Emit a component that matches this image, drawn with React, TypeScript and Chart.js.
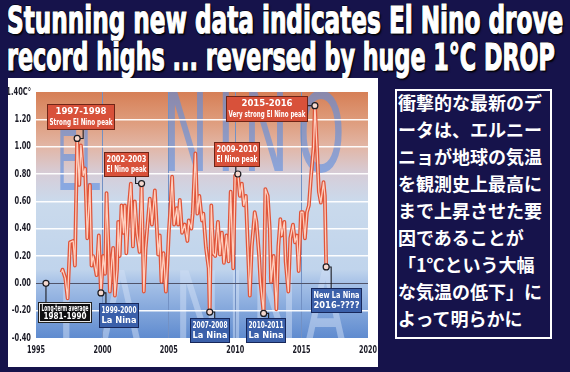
import React, { useEffect, useLayoutEffect, useRef } from "react";
import { Chart, registerables } from "chart.js";

Chart.register(...registerables);

// ---------- data ----------
const years = [
  1996.93, 1997.0, 1997.2, 1997.38, 1997.56, 1997.8, 1997.93, 1998.1, 1998.26, 1998.38,
  1998.56, 1998.7, 1998.86, 1999.06, 1999.18, 1999.3, 1999.45, 1999.56, 1999.73, 1999.89,
  2000.06, 2000.2, 2000.31, 2000.45, 2000.56, 2000.7, 2000.81, 2000.94, 2001.1, 2001.19,
  2001.3, 2001.44, 2001.6, 2001.69, 2001.8, 2001.98, 2002.14, 2002.3, 2002.44, 2002.6,
  2002.8, 2002.95, 2003.12, 2003.25, 2003.4, 2003.57, 2003.73, 2003.95, 2004.1, 2004.2,
  2004.32, 2004.45, 2004.6, 2004.78, 2004.9, 2005.0, 2005.1, 2005.25, 2005.4, 2005.6,
  2005.7, 2005.83, 2006.0, 2006.2, 2006.4, 2006.5, 2006.7, 2006.8, 2007.0, 2007.15,
  2007.3, 2007.5, 2007.6, 2007.8, 2008.0, 2008.08, 2008.2, 2008.35, 2008.5, 2008.7,
  2008.85, 2009.0, 2009.15, 2009.34, 2009.5, 2009.66, 2009.85, 2010.0, 2010.2, 2010.35,
  2010.5, 2010.65, 2010.8, 2010.95, 2011.1, 2011.25, 2011.47, 2011.6, 2011.8, 2011.9,
  2012.14, 2012.27, 2012.45, 2012.6, 2012.7, 2012.9, 2013.1, 2013.25, 2013.4, 2013.5,
  2013.7, 2013.8, 2014.0, 2014.15, 2014.35, 2014.5, 2014.65, 2014.78, 2014.95, 2015.1,
  2015.25, 2015.4, 2015.55, 2015.7, 2015.9, 2016.0, 2016.15, 2016.3, 2016.45, 2016.65,
  2016.75, 2016.85,
];
const anomalies = [
  0.08, 0.1, 0.04, -0.11, 0.3, 0.31, 0.13, 1.06, 0.72, 1.01,
  0.79, 0.84, 0.33, 0.72, 0.13, 0.2, 0.12, 0.06, 0.35, -0.07,
  0.2, 0.07, 0.66, 0.29, -0.06, 0.15, 0.26, -0.09, 0.1, 0.45,
  0.2, 0.57, 0.37, 0.57, 0.22, 0.55, 0.73, 0.27, 0.6, 0.37,
  0.23, 0.73, -0.06, 0.25, 0.43, 0.62, 0.43, 0.68, 0.4, 0.21,
  0.35, 0.01, 0.22, -0.06, 0.15, 0.37, 0.52, 0.78, 0.43, 0.55,
  0.43, 0.61, 0.37, 0.43, 0.31, 0.46, 0.4, 0.51, 0.95, 0.51,
  0.64, 0.46, 0.51, 0.26, 0.11, -0.21, 0.57, 0.22, 0.2, 0.45,
  0.21, 0.37, 0.15, 0.35, 0.16, 0.67, 0.11, 0.79, 0.8, 0.64,
  0.73, 0.57, 0.64, 0.27, -0.09, 0.27, 0.52, 0.45, 0.2, 0.01,
  -0.22, 0.69, 0.64, 0.4, 0.01, 0.2, -0.19, 0.27, 0.47, 0.35,
  0.45, 0.16, -0.06, 0.33, 0.43, 0.3, 0.35, 0.09, 0.52, 0.52,
  0.33, 0.52, 0.57, 0.77, 0.99, 1.3, 1.01, 0.67, 0.59, 0.74,
  0.64, 0.12,
];

const xMin = 1995;
const xMax = 2020;
const xStep = 5;
const yMin = -0.4;
const yMax = 1.4;
const yStep = 0.2;
const topTickUnit = "C°";

const noteYears = [1998.1, 2002.95, 2010.2, 2016.0, 2016.85, 2008.08, 2012.14, 1999.89, 1995.75];
const noteValues = [1.06, 0.73, 0.8, 1.3, 0.12, -0.21, -0.22, -0.07, 0.0];
const noteTitles = [
  "1997-1998", "2002-2003", "2009-2010", "2015-2016", "New La Nina",
  "2007-2008", "2010-2011", "1999-2000", "Long-term average",
];
const noteSubtitles = [
  "Strong El Nino peak", "El Nino peak", "El Nino peak", "Very strong El Nino peak", "2016-????",
  "La Nina", "La Nina", "La Nina", "1981-1990",
];
const noteKinds = ["nino", "nino", "nino", "nino", "nina", "nina", "nina", "nina", "avg"];

const titleLines = [
  "Stunning new data indicates El Nino drove",
  "record highs ... reversed by huge 1°C DROP",
];

const sideLines = [
  "衝撃的な最新のデ",
  "ータは、エルニー",
  "ニョが地球の気温",
  "を観測史上最高に",
  "まで上昇させた要",
  "因であることが",
  "「1℃という大幅",
  "な気温の低下」に",
  "よって明らかに",
];

// ---------- layout / style (not data) ----------
const noteLayout = [
  { dx: -30, dy: -34, w: 67, h: 25, ex: 6 },
  { dx: -38, dy: -32, w: 44, h: 24, ex: -6 },
  { dx: -24, dy: -32, w: 45, h: 24, ex: -2 },
  { dx: -89, dy: -10, w: 81, h: 25, ex: 0 },
  { dx: -15, dy: 21, w: 50, h: 24, ex: 5 },
  { dx: -20, dy: 6, w: 39, h: 24, ex: 5 },
  { dx: -18, dy: 5, w: 39, h: 24, ex: 5 },
  { dx: -2, dy: 10, w: 39, h: 24, ex: 5 },
  { dx: -7, dy: 20, w: 51, h: 18, ex: 0 },
];
const noteStyles: Record<string, { fill: string; stroke: string }> = {
  nino: { fill: "#d8513a", stroke: "#6e2517" },
  nina: { fill: "#3b60aa", stroke: "#17275a" },
  avg: { fill: "#0e0e10", stroke: "#e8e8e8" },
};

const NARROW = "'Liberation Sans Narrow', 'DejaVu Sans Condensed', sans-serif";
const NAVY = "#16134b";
const near = (a: number, b: number) => Math.abs(a - b) < 1e-6;

function yLabel(v: number) {
  const s = (Math.abs(v) < 1e-9 ? 0 : v).toFixed(2);
  return near(v, yMax) ? s + topTickUnit : s;
}

function drawWord(
  ctx: CanvasRenderingContext2D,
  text: string,
  left: number,
  baseline: number,
  size: number,
  targetWidth: number,
  color: string,
  spacing: number
) {
  ctx.save();
  ctx.font = `normal ${size}px 'DejaVu Sans', sans-serif`;
  (ctx as any).letterSpacing = `${spacing}px`;
  const w = ctx.measureText(text).width - spacing;
  ctx.translate(left, baseline);
  ctx.scale(targetWidth / w, 1);
  ctx.fillStyle = color;
  ctx.textAlign = "left";
  ctx.textBaseline = "alphabetic";
  ctx.fillText(text, 0, 0);
  ctx.restore();
}

const backdropPlugin = {
  id: "backdrop",
  beforeDraw(chart: any) {
    const { ctx, chartArea } = chart;
    const { left, top, right, bottom } = chartArea;
    const f = (v: number) => (yMax - v) / (yMax - yMin);
    ctx.save();
    const g = ctx.createLinearGradient(0, top, 0, bottom);
    g.addColorStop(f(1.4), "#d67f56");
    g.addColorStop(f(1.2), "#de9a79");
    g.addColorStop(f(1.0), "#e2b6a6");
    g.addColorStop(f(0.8), "#d6cdd8");
    g.addColorStop(f(0.6), "#cadaec");
    g.addColorStop(f(0.1), "#c0d4ec");
    g.addColorStop(f(0.0), "#a6c1e7");
    g.addColorStop(f(-0.4), "#5f8bcf");
    ctx.fillStyle = g;
    ctx.fillRect(left, top, right - left, bottom - top);
    ctx.beginPath();
    ctx.rect(left, top, right - left, bottom - top);
    ctx.clip();
    drawWord(ctx, "EL", left + 21, top + 98, 84, 43, "rgba(92,142,224,0.62)", 6);
    drawWord(ctx, "NINO", left + 127, top + 79, 108, 182, "rgba(92,142,224,0.62)", 14);
    drawWord(ctx, "LA NINA", left + 21, top + 255, 106, 290, "rgba(210,224,246,0.5)", 10);
    ctx.restore();
  },
};

const labelsPlugin = {
  id: "axisLabels",
  afterDraw(chart: any) {
    const { ctx, chartArea } = chart;
    const xs = chart.scales.x;
    const ys = chart.scales.y;
    ctx.save();
    ctx.fillStyle = "#1b1b26";
    ctx.font = `bold 10px ${NARROW}`;
    ctx.textBaseline = "middle";
    ys.ticks.forEach((t: any) => {
      const py = ys.getPixelForValue(t.value);
      ctx.save();
      ctx.translate(chartArea.left - 5, py);
      ctx.scale(0.74, 1);
      ctx.textAlign = "right";
      ctx.fillText(yLabel(t.value), 0, 0);
      ctx.restore();
    });
    xs.ticks.forEach((t: any) => {
      const px = xs.getPixelForValue(t.value);
      ctx.save();
      ctx.translate(px, chartArea.bottom + 12);
      ctx.scale(0.72, 1);
      ctx.textAlign = "center";
      ctx.fillText(String(t.value), 0, 0);
      ctx.restore();
    });
    ctx.restore();
  },
};

const notesPlugin = {
  id: "notes",
  afterDatasetsDraw(chart: any) {
    const { ctx } = chart;
    const xs = chart.scales.x;
    const ys = chart.scales.y;
    ctx.save();
    noteYears.forEach((yr, i) => {
      const ax = xs.getPixelForValue(yr);
      const ay = ys.getPixelForValue(noteValues[i]);
      const L = noteLayout[i];
      const st = noteStyles[noteKinds[i]];
      const bx = Math.round(ax + L.dx) + 0.5;
      const by = Math.round(ay + L.dy) + 0.5;
      // connector
      ctx.strokeStyle = "#1c1c22";
      ctx.lineWidth = 1.1;
      ctx.beginPath();
      ctx.moveTo(ax, ay);
      if (ay >= by && ay <= by + L.h) {
        const edge = ax > bx + L.w ? bx + L.w : bx;
        ctx.lineTo(edge, ay);
      } else {
        const edgeY = by > ay ? by : by + L.h;
        ctx.lineTo(ax + L.ex, ay);
        ctx.lineTo(ax + L.ex, edgeY);
      }
      ctx.stroke();
      // box
      ctx.fillStyle = st.fill;
      ctx.fillRect(bx, by, L.w, L.h);
      ctx.strokeStyle = st.stroke;
      ctx.lineWidth = 1;
      ctx.strokeRect(bx, by, L.w, L.h);
      if (noteKinds[i] === "avg") {
        ctx.strokeStyle = "#222";
        ctx.strokeRect(bx - 1, by - 1, L.w + 2, L.h + 2);
      }
      // text
      const fs = L.h < 20 ? 8 : 9.5;
      ctx.fillStyle = "#ffffff";
      ctx.font = `bold ${fs}px ${NARROW}`;
      ctx.textAlign = "center";
      ctx.textBaseline = "middle";
      const cx = bx + L.w / 2;
      ctx.fillText(noteTitles[i], cx, by + L.h * 0.3, L.w - 4);
      ctx.fillText(noteSubtitles[i], cx, by + L.h * 0.72, L.w - 4);
      // marker
      ctx.beginPath();
      ctx.arc(ax, ay, 3, 0, Math.PI * 2);
      ctx.fillStyle = "#f5d9cf";
      ctx.fill();
      ctx.strokeStyle = "#1c1c22";
      ctx.lineWidth = 1.2;
      ctx.stroke();
    });
    ctx.restore();
  },
};

export default function App() {
  const canvasRef = useRef<HTMLCanvasElement>(null);
  const titleRefs = useRef<(HTMLSpanElement | null)[]>([]);

  useLayoutEffect(() => {
    const targets = [556, 548];
    titleRefs.current.forEach((el, i) => {
      if (!el) return;
      const w = el.offsetWidth;
      if (w > 0) el.style.transform = `scaleX(${targets[i] / w})`;
    });
  }, []);

  useEffect(() => {
    if (!canvasRef.current) return;
    const points = years.map((x, i) => ({ x, y: anomalies[i] }));
    const chart = new Chart(canvasRef.current, {
      type: "line",
      data: {
        datasets: [
          {
            // pale core, drawn on top
            data: points,
            borderColor: "rgba(255,214,198,0.95)",
            borderWidth: 1.3,
            pointRadius: 0,
            tension: 0,
            borderJoinStyle: "round",
            order: 0,
          },
          {
            // red body of the line
            data: points,
            borderColor: "#e0553a",
            borderWidth: 3.8,
            pointRadius: 0,
            tension: 0,
            borderJoinStyle: "round",
            order: 1,
          },
        ],
      },
      options: {
        responsive: false,
        animation: false,
        events: [],
        layout: { padding: { left: 0, top: 14, right: 10, bottom: 0 } },
        plugins: { legend: { display: false }, tooltip: { enabled: false } },
        scales: {
          x: {
            type: "linear",
            min: xMin,
            max: xMax,
            border: { display: false },
            grid: {
              drawTicks: false,
              color: (c: any) =>
                near(c.tick?.value, xMin) || near(c.tick?.value, xMax) ? "rgba(0,0,0,0)" : "#7391c4",
              lineWidth: 1,
            },
            ticks: { stepSize: xStep, display: false },
            afterFit: (s: any) => {
              s.height = 29;
            },
          },
          y: {
            min: yMin,
            max: yMax,
            border: { display: false },
            grid: {
              drawTicks: false,
              color: (c: any) => {
                const v = c.tick?.value;
                if (near(v, 0)) return "#50546a";
                if (near(v, yMax) || near(v, yMin)) return "rgba(0,0,0,0)";
                return "rgba(255,255,255,0.95)";
              },
              lineWidth: (c: any) => (near(c.tick?.value, 0) ? 1 : 1.6),
            },
            ticks: { stepSize: yStep, display: false },
            afterFit: (s: any) => {
              s.width = 28;
            },
          },
        },
      } as any,
      plugins: [backdropPlugin, notesPlugin, labelsPlugin],
    });
    return () => chart.destroy();
  }, []);

  return (
    <div
      style={{
        position: "fixed",
        left: 0,
        top: 0,
        width: 570,
        height: 372,
        background: NAVY,
        overflow: "hidden",
      }}
    >
      {titleLines.map((t, i) => (
        <div
          key={i}
          style={{
            position: "absolute",
            left: 7,
            top: i === 0 ? 2 : 39,
            whiteSpace: "nowrap",
            fontFamily: NARROW,
            fontWeight: "bold",
            fontSize: 37,
            lineHeight: "37px",
            color: "#ffffff",
            WebkitTextStroke: "1.2px #ffffff",
            textShadow:
              "1px 1px 0 #05040f, -1px -1px 0 #05040f, 1px -1px 0 #05040f, -1px 1px 0 #05040f, 2px 2px 2px #000",
          }}
        >
          <span
            ref={(el) => {
              titleRefs.current[i] = el;
            }}
            style={{ display: "inline-block", transformOrigin: "0 0" }}
          >
            {t}
          </span>
        </div>
      ))}
      <div
        style={{
          position: "absolute",
          left: 8,
          top: 78,
          width: 370,
          height: 289,
          background: "#ffffff",
        }}
      >
        <canvas ref={canvasRef} width={370} height={289} style={{ display: "block", width: 370, height: 289 }} />
      </div>
      <div
        style={{
          position: "absolute",
          left: 395,
          top: 89,
          width: 157,
          height: 250,
          boxSizing: "border-box",
          border: "2px solid #ffffff",
          paddingLeft: 1,
        }}
      >
        <div style={{ marginTop: -2 }}>
          {sideLines.map((s, i) => (
            <div
              key={i}
              style={{
                whiteSpace: "nowrap",
                fontFamily: "'Noto Sans CJK JP', sans-serif",
                fontWeight: "bold",
                fontSize: 18,
                lineHeight: "27px",
                color: "#ffffff",
              }}
            >
              {s}
            </div>
          ))}
        </div>
      </div>
    </div>
  );
}
